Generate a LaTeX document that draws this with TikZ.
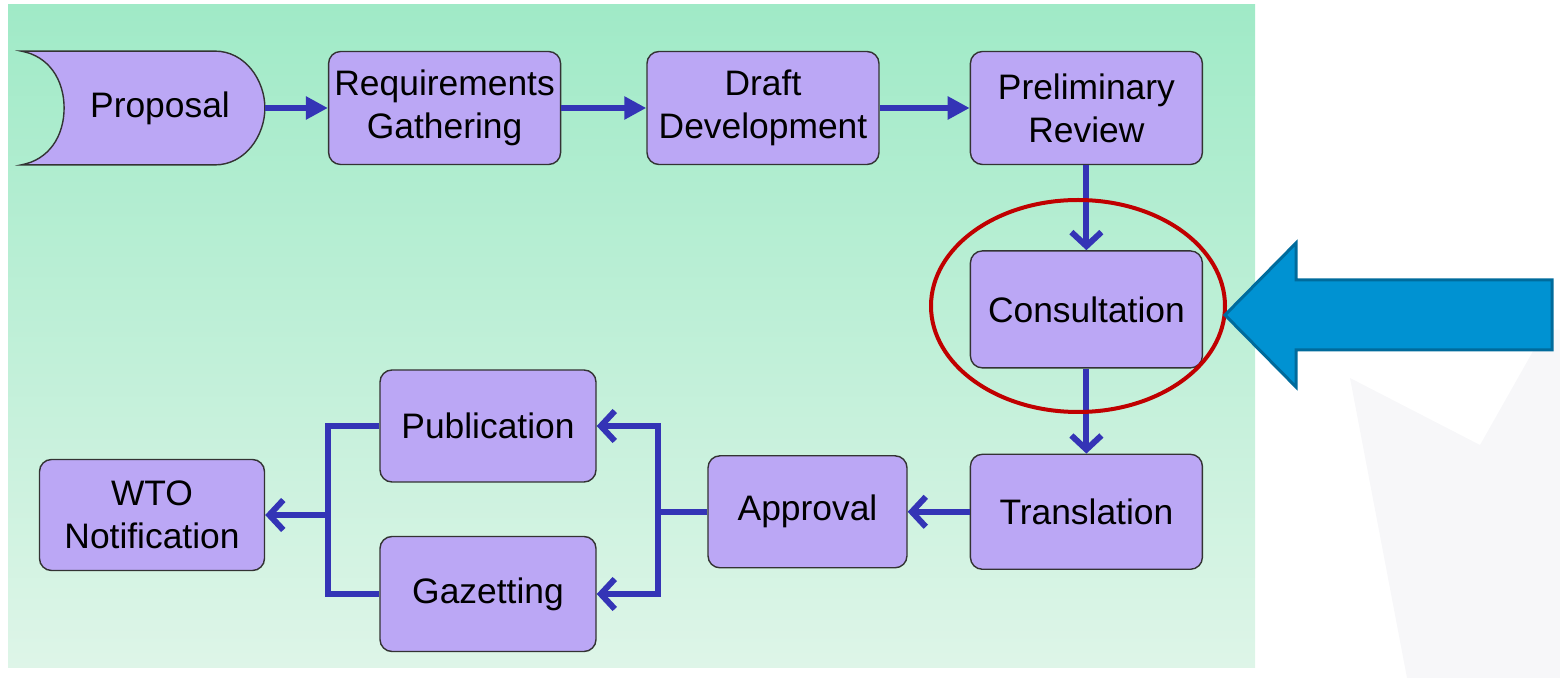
\documentclass[tikz,border=0pt]{standalone}
\usepackage{fontspec}
\setmainfont{Liberation Sans}
\usetikzlibrary{positioning,arrows.meta,calc}

\definecolor{bgtop}{HTML}{A0EAC7}
\definecolor{bgbot}{HTML}{DEF5E8}
\definecolor{boxfill}{HTML}{BBA7F5}
\definecolor{flowblue}{HTML}{3434B6}
\definecolor{ringred}{HTML}{C00000}
\definecolor{pointfill}{HTML}{0092D2}
\definecolor{pointline}{HTML}{006B9C}
\definecolor{faintgray}{HTML}{F7F7F9}

\newcommand{\boxfont}{\fontsize{17.7}{21.5}\selectfont}

\tikzset{
  stepbox/.style={draw=black!80, line width=0.7pt, fill=boxfill, rounded corners=6pt,
    align=center, font=\boxfont, minimum width=116pt, minimum height=56.5pt, inner sep=2pt},
  flow/.style={draw=flowblue, line width=3pt, -{Triangle[length=11pt,width=11pt]}},
  flowopen/.style={draw=flowblue, line width=3pt, -{Straight Barb[length=7pt,width=15pt]}},
  flowline/.style={draw=flowblue, line width=3pt},
}

\begin{document}
\begin{tikzpicture}[x=0.5pt, y=-0.5pt]
	\useasboundingbox (0,0) rectangle (1560,678);
	% backdrop
	\fill[faintgray] (1350,378) -- (1480,445) -- (1545,330) -- (1560,330) -- (1560,678) -- (1407,678) -- cycle;
	\shade[top color=bgtop, bottom color=bgbot] (8,5) rectangle (1255,668);

	% top row
	\node[minimum width=121.5pt, minimum height=56.5pt] (prop) at (143,108) {};
	\draw[draw=black!80, line width=0.7pt, fill=boxfill]
		(prop.north west) -- ($(prop.north east)+(-50,0)$)
		.. controls +(30,0) and +(0,-28) .. (prop.east)
		.. controls +(0,28) and +(30,0) .. ($(prop.south east)+(-50,0)$)
		-- (prop.south west)
		.. controls +(28,-5) and +(0,28) .. ($(prop.west)+(43,0)$)
		.. controls +(0,-28) and +(28,5) .. (prop.north west) -- cycle;
	\node[font=\boxfont] (proplabel) at ($(prop.center)+(17,0)$) {Proposal};

	\node[stepbox, right=31.5pt of prop] (req) {Requirements\\Gathering};
	\node[stepbox, right=42.5pt of req] (draft) {Draft\\Development};
	\node[stepbox, right=45pt of draft] (prelim) {Preliminary\\Review};

	% right column
	\node[stepbox, minimum height=58.5pt, below=42.5pt of prelim] (consult) {Consultation};
	\node[stepbox, minimum height=57.5pt, below=42.5pt of consult] (transl) {Translation};

	% bottom row
	\node[stepbox, minimum width=99.5pt, minimum height=56pt, left=31pt of transl] (approv) {Approval};
	\node[stepbox, minimum width=108pt, minimum height=56pt] (publ) at (488,426) {Publication};
	\node[stepbox, minimum width=108pt, minimum height=57.5pt] (gazet) at (488,594) {Gazetting};
	\node[stepbox, minimum width=112.5pt, minimum height=55.5pt] (wto) at (152,515) {WTO\\Notification};

	% connectors
	\draw[flow] (prop.east) -- (req.west);
	\draw[flow] (req.east) -- (draft.west);
	\draw[flow] (draft.east) -- (prelim.west);
	\draw[flowopen] (prelim.south) -- (consult.north);
	\draw[flowopen] (consult.south) -- (transl.north);
	\draw[flowopen] (transl.west) -- (approv.east);
	\draw[flowopen] (approv.west) -- ++(-49,0) coordinate (busR) |- (publ.east);
	\draw[flowopen] (busR) |- (gazet.east);
	\coordinate (busL) at ($(wto.east)+(63,0)$);
	\draw[flowline] (publ.west) -| (busL);
	\draw[flowline] (gazet.west) -| (busL);
	\draw[flowopen] (busL) -- (wto.east);

	% highlight
	\draw[ringred, line width=2pt] (1078,306) ellipse [x radius=73.5pt, y radius=53pt];
	\draw[fill=pointfill, draw=pointline, line width=1.5pt, line join=miter]
		(1225,315) -- (1296,243) -- (1296,280) -- (1552,280) -- (1552,350) -- (1296,350) -- (1296,387) -- cycle;
\end{tikzpicture}
\end{document}
